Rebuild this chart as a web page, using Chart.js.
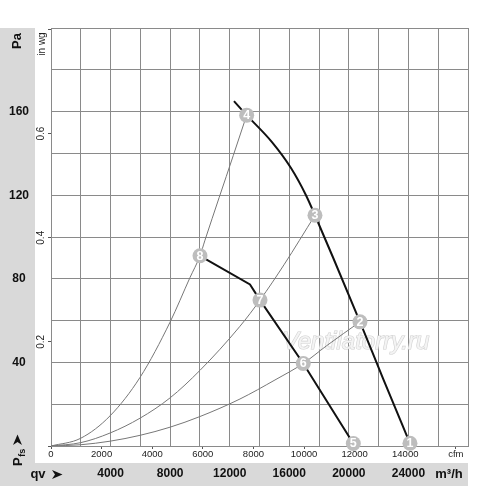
<!DOCTYPE html>
<html><head><meta charset="utf-8">
<script src="https://cdn.jsdelivr.net/npm/chart.js@4.4.1/dist/chart.umd.min.js"></script>
<style>html,body{margin:0;padding:0;background:#fff;}canvas{display:block;}</style>
</head><body>
<canvas id="c" width="500" height="486"></canvas>
<script>
// ---- tick labels ----
const flowTicksM3h = [4000, 8000, 12000, 16000, 20000, 24000];
const pressureTicksPa = [40, 80, 120, 160];
const cfmTickValues = [0, 2000, 4000, 6000, 8000, 10000, 12000, 14000, 16000];
const cfmTickLabels = ['0', '2000', '4000', '6000', '8000', '10000', '12000', '14000', 'cfm'];
const inwgTickValues = [0, 0.2, 0.4, 0.6, 0.8];
const inwgTickLabels = ['', '0.2', '0.4', '0.6', ''];

// ---- curves: [m3/h, Pa] ----
const fanCurveMax = [[12287,165.0],[13139,158.3],[14838,145.4],[16114,133.0],[17121,120.0],[17725,110.4],[18939,90.2],[20746,59.4],[22311,32.0],[24103,1.3]];
const fanCurveMin = [[10004,91.0],[13361,77.3],[14033,69.8],[16939,39.5],[20300,1.2]];
const systemCurveA = [[0,0],[1994,3.7],[3961,14.4],[5976,32.8],[7990,59.2],[9333,80.6],[10004,91.0],[10340,98.5],[12240,139],[13139,158.3]];
const systemCurveB = [[0,0],[1994,1.6],[3961,6.2],[5976,13.3],[7990,23.0],[10004,36.2],[12690,57.3],[14033,69.8],[15644,86.7],[17725,110.4]];
const systemCurveC = [[0,0],[1994,0.6],[3961,2.3],[5976,5.1],[7990,9.0],[10004,14.1],[12690,22.5],[15040,31.6],[16939,39.5],[18511,48.0],[20746,59.4]];

// ---- numbered operating points ----
const pointLabels   = ['1','2','3','4','5','6','7','8'];
const pointFlow     = [24103, 20746, 17725, 13139, 20300, 16939, 14033, 10004];
const pointPressure = [1.3, 59.4, 110.4, 158.3, 1.2, 39.5, 69.8, 91.0];

const M3H_PER_CFM = 1.69901;
const PA_PER_INWG = 249.089;
const GRID = '#8a8a8a';

const toXY = arr => arr.map(p => ({x: p[0], y: p[1]}));

Chart.defaults.font.family = "'Liberation Sans', Arial, sans-serif";

function arrow(ctx, cx, cy, s, angle) {
  ctx.save();
  ctx.translate(cx, cy);
  ctx.rotate(angle);
  ctx.beginPath();
  ctx.moveTo(s * 0.55, 0);
  ctx.lineTo(-s * 0.5, -s * 0.45);
  ctx.lineTo(-s * 0.2, 0);
  ctx.lineTo(-s * 0.5, s * 0.45);
  ctx.closePath();
  ctx.fill();
  ctx.restore();
}

const decor = {
  id: 'decor',
  beforeDraw(chart) {
    const {ctx, chartArea: a, scales} = chart;
    ctx.save();
    ctx.fillStyle = '#d9d9d9';
    ctx.fillRect(scales.y.left, a.top, scales.y.right - scales.y.left, chart.height - a.top);
    ctx.fillRect(0, scales.x.top, a.right, chart.height - scales.x.top);
    ctx.restore();
  },
  beforeDatasetsDraw(chart) {
    const {ctx} = chart;
    ctx.save();
    ctx.font = "italic 24px 'Liberation Sans', Arial, sans-serif";
    ctx.textAlign = 'center';
    ctx.textBaseline = 'middle';
    ctx.lineWidth = 1.2;
    ctx.strokeStyle = '#d0d0d0';
    ctx.strokeText('Ventilatorry.ru', 356, 342);
    ctx.fillStyle = '#f4f4f4';
    ctx.fillText('Ventilatorry.ru', 356, 342);
    ctx.restore();
  },
  afterDatasetsDraw(chart) {
    const {ctx} = chart;
    const meta = chart.getDatasetMeta(0);
    ctx.save();
    ctx.fillStyle = '#ffffff';
    ctx.font = "bold 12.5px 'Liberation Sans', Arial, sans-serif";
    ctx.textAlign = 'center';
    ctx.textBaseline = 'middle';
    meta.data.forEach((el, i) => ctx.fillText(pointLabels[i], el.x, el.y + 0.5));

    ctx.fillStyle = '#111';
    // Pa
    ctx.save();
    ctx.translate(17.5, 41);
    ctx.rotate(-Math.PI / 2);
    ctx.font = "bold 13px 'Liberation Sans', Arial, sans-serif";
    ctx.fillText('Pa', 0, 0);
    ctx.restore();
    // in wg
    ctx.save();
    ctx.translate(42, 44);
    ctx.rotate(-Math.PI / 2);
    ctx.fillStyle = '#222';
    ctx.font = "10px 'Liberation Sans', Arial, sans-serif";
    ctx.fillText('in wg', 0, 0);
    ctx.restore();
    // Pfs
    ctx.save();
    ctx.translate(17.5, 466);
    ctx.rotate(-Math.PI / 2);
    ctx.textAlign = 'left';
    ctx.textBaseline = 'alphabetic';
    ctx.font = "bold 13px 'Liberation Sans', Arial, sans-serif";
    ctx.fillText('P', 0, 4.5);
    const pw = ctx.measureText('P').width;
    ctx.font = "bold 9px 'Liberation Sans', Arial, sans-serif";
    ctx.fillText('fs', pw + 0.5, 7);
    ctx.restore();
    arrow(ctx, 17.5, 440, 10, -Math.PI / 2);
    // qv
    ctx.textAlign = 'center';
    ctx.font = "bold 13px 'Liberation Sans', Arial, sans-serif";
    ctx.fillText('qv', 38, 474.5);
    arrow(ctx, 57, 474.5, 10, 0);
    // m3/h
    ctx.fillText('m³/h', 449, 474);
    ctx.restore();
  }
};

new Chart(document.getElementById('c'), {
  type: 'scatter',
  data: {
    datasets: [
      { data: pointFlow.map((x, i) => ({x, y: pointPressure[i]})), showLine: false,
        pointRadius: 7.5, pointBackgroundColor: '#bdbdbd', pointBorderWidth: 0, clip: false, order: 0 },
      { data: toXY(fanCurveMax), showLine: true, borderColor: '#111', borderWidth: 2,
        pointRadius: 0, cubicInterpolationMode: 'monotone', order: 1 },
      { data: toXY(fanCurveMin), showLine: true, borderColor: '#111', borderWidth: 2,
        pointRadius: 0, tension: 0, order: 1 },
      { data: toXY(systemCurveA), showLine: true, borderColor: '#777', borderWidth: 1,
        pointRadius: 0, cubicInterpolationMode: 'monotone', order: 2 },
      { data: toXY(systemCurveB), showLine: true, borderColor: '#777', borderWidth: 1,
        pointRadius: 0, cubicInterpolationMode: 'monotone', order: 2 },
      { data: toXY(systemCurveC), showLine: true, borderColor: '#777', borderWidth: 1,
        pointRadius: 0, cubicInterpolationMode: 'monotone', order: 2 }
    ]
  },
  options: {
    responsive: false,
    animation: false,
    layout: { padding: { top: 28, right: 32, left: 0, bottom: 0 } },
    plugins: { legend: { display: false }, tooltip: { enabled: false } },
    scales: {
      x: {
        type: 'linear', position: 'bottom', weight: 1, min: 0, max: 28000,
        ticks: { stepSize: 2000, autoSkip: false, maxRotation: 0, minRotation: 0, padding: 3.5,
                 color: '#111', font: { size: 12, weight: 'bold' },
                 callback: v => flowTicksM3h.includes(v) ? String(v) : '' },
        grid: { color: GRID, lineWidth: 1, drawTicks: false },
        border: { display: false },
        afterFit: s => { s.height = 23; }
      },
      x2: {
        type: 'linear', position: 'bottom', weight: 0, min: 0, max: 28000 / M3H_PER_CFM,
        afterBuildTicks: s => { s.ticks = cfmTickValues.map(v => ({value: v})); },
        ticks: { autoSkip: false, maxRotation: 0, minRotation: 0,
                 padding: 0, color: '#222', font: { size: 9.5 },
                 callback: v => cfmTickLabels[cfmTickValues.indexOf(v)] ?? '' },
        grid: { drawOnChartArea: false, drawTicks: true, tickLength: 3, color: '#555' },
        border: { display: true, color: GRID },
        afterFit: s => { s.height = 17; }
      },
      y: {
        type: 'linear', position: 'left', weight: 1, min: 0, max: 200,
        ticks: { stepSize: 20, autoSkip: false, crossAlign: 'center', padding: 6,
                 color: '#111', font: { size: 12, weight: 'bold' },
                 callback: v => pressureTicksPa.includes(v) ? String(v) : '' },
        grid: { color: GRID, lineWidth: 1, drawTicks: false },
        border: { display: false },
        afterFit: s => { s.width = 35; }
      },
      y2: {
        type: 'linear', position: 'left', weight: 0, min: 0, max: 200 / PA_PER_INWG,
        afterBuildTicks: s => { s.ticks = inwgTickValues.map(v => ({value: v})); },
        ticks: { autoSkip: false, minRotation: 90, maxRotation: 90,
                 crossAlign: 'center', padding: 0, color: '#222', font: { size: 10 },
                 callback: v => inwgTickLabels[inwgTickValues.indexOf(v)] ?? '' },
        grid: { drawOnChartArea: false, drawTicks: true, tickLength: 3, color: '#555' },
        border: { display: true, color: GRID },
        afterFit: s => { s.width = 16; }
      }
    }
  },
  plugins: [decor]
});
</script>
</body></html>
